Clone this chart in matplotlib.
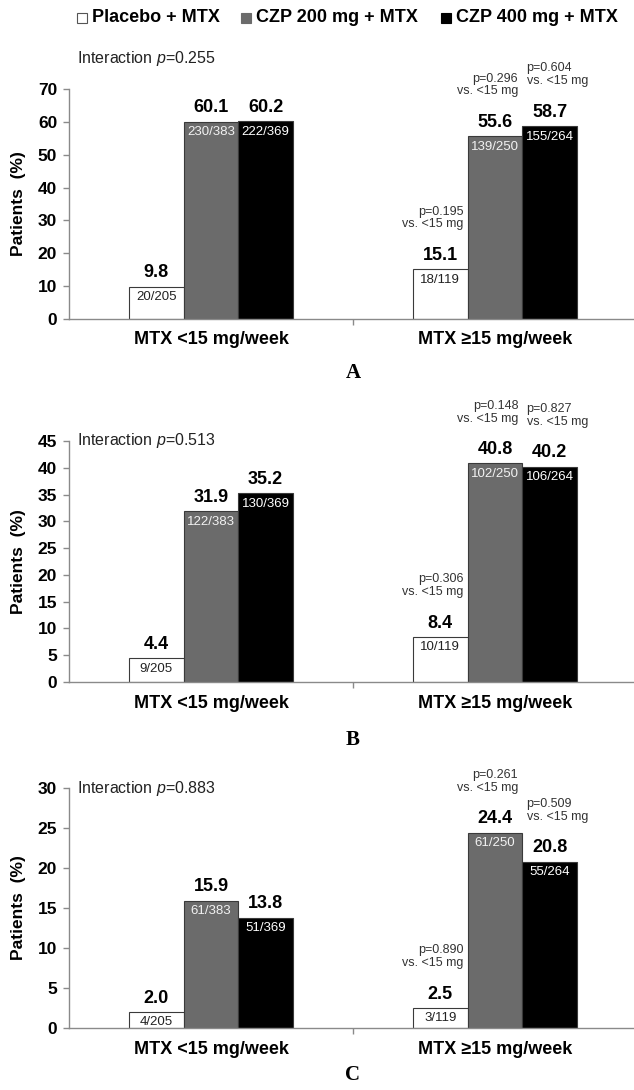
import matplotlib
matplotlib.use("Agg")
import matplotlib.pyplot as plt
from matplotlib.patches import Rectangle
from matplotlib import font_manager

# ---------------- data ----------------
categories = ["MTX <15 mg/week", "MTX \u226515 mg/week"]
series_names = ["Placebo + MTX", "CZP 200 mg + MTX", "CZP 400 mg + MTX"]

a_placebo = [9.8, 15.1]
a_czp200 = [60.1, 55.6]
a_czp400 = [60.2, 58.7]
a_frac_placebo = ["20/205", "18/119"]
a_frac_czp200 = ["230/383", "139/250"]
a_frac_czp400 = ["222/369", "155/264"]
a_pvals = ["0.195", "0.296", "0.604"]
a_interaction = "0.255"
a_ticks = [0, 10, 20, 30, 40, 50, 60, 70]

b_placebo = [4.4, 8.4]
b_czp200 = [31.9, 40.8]
b_czp400 = [35.2, 40.2]
b_frac_placebo = ["9/205", "10/119"]
b_frac_czp200 = ["122/383", "102/250"]
b_frac_czp400 = ["130/369", "106/264"]
b_pvals = ["0.306", "0.148", "0.827"]
b_interaction = "0.513"
b_ticks = [0, 5, 10, 15, 20, 25, 30, 35, 40, 45]

c_placebo = [2.0, 2.5]
c_czp200 = [15.9, 24.4]
c_czp400 = [13.8, 20.8]
c_frac_placebo = ["4/205", "3/119"]
c_frac_czp200 = ["61/383", "61/250"]
c_frac_czp400 = ["51/369", "55/264"]
c_pvals = ["0.890", "0.261", "0.509"]
c_interaction = "0.883"
c_ticks = [0, 5, 10, 15, 20, 25, 30]

panel_letters = ["A", "B", "C"]

# ---------------- style ----------------
W, H = 634, 1090
DPI = 100
names = {f.name for f in font_manager.fontManager.ttflist}
SANS = ["Liberation Sans", "DejaVu Sans"]
if "Liberation Sans Narrow" in names:
    NARROW = ["Liberation Sans Narrow", "Liberation Sans", "DejaVu Sans"]
    NSIZE = 10.3
    FSIZE = 10.6
else:
    NARROW = SANS
    NSIZE = 9.0
    FSIZE = 9.5

plt.rcParams["font.family"] = SANS
plt.rcParams["mathtext.fontset"] = "custom"
plt.rcParams["mathtext.rm"] = "Liberation Sans"
plt.rcParams["mathtext.it"] = "Liberation Sans:italic"

colors = ["white", "#6b6b6b", "black"]
frac_colors = ["#222222", "#f2f2f2", "white"]
edge = "#3a3a3a"
axis_gray = "#8a8a8a"

fig = plt.figure(figsize=(W / DPI, H / DPI), dpi=DPI)

def px_x(x):
    return x / W

def px_y(y):
    return 1 - y / H

# axes pixel boxes: (left, top, right, bottom)
boxes = [(69, 89, 637, 319), (69, 441, 637, 682), (69, 788, 637, 1028)]
inter_pos = [(77, 58), (77, 441), (77, 788)]
letter_y = [373, 740, 1075]

panels = [
    (a_placebo, a_czp200, a_czp400, a_frac_placebo, a_frac_czp200, a_frac_czp400, a_pvals, a_interaction, a_ticks),
    (b_placebo, b_czp200, b_czp400, b_frac_placebo, b_frac_czp200, b_frac_czp400, b_pvals, b_interaction, b_ticks),
    (c_placebo, c_czp200, c_czp400, c_frac_placebo, c_frac_czp200, c_frac_czp400, c_pvals, c_interaction, c_ticks),
]

bw = 0.1925
offsets = [-bw, 0.0, bw]

for i, (pl, c2, c4, fpl, f2, f4, pv, inter, ticks) in enumerate(panels):
    l, t, r, b = boxes[i]
    ax = fig.add_axes([px_x(l), px_y(b), (r - l) / W, (b - t) / H])
    ax.set_xlim(-0.5, 1.5)
    ax.set_ylim(ticks[0], ticks[-1])
    vals = [pl, c2, c4]
    fracs = [fpl, f2, f4]
    xs = list(range(len(categories)))
    for s in range(3):
        xpos = [x + offsets[s] for x in xs]
        ax.bar(xpos, vals[s], width=bw, color=colors[s], edgecolor=edge,
               linewidth=0.8, zorder=2)
        for x, v, fr in zip(xpos, vals[s], fracs[s]):
            ax.annotate(f"{v:.1f}", (x, v), xytext=(0, 10), textcoords="offset points",
                        ha="center", va="center", fontsize=13, fontweight="bold",
                        color="black")
            ax.annotate(fr, (x, v), xytext=(0, -7.5), textcoords="offset points",
                        ha="center", va="center", fontsize=FSIZE, family=NARROW,
                        color=frac_colors[s], zorder=3)
    # p-values vs <15 mg for the >=15 group
    g = 1
    for s in range(3):
        x = xs[g] + offsets[s]
        v = vals[s][g]
        txt = f"p={pv[s]}\nvs. <15 mg"
        if s < 2:
            ax.annotate(txt, (x + bw / 2, v), xytext=(-3, 28), textcoords="offset points",
                        ha="right", va="bottom", multialignment="right",
                        fontsize=NSIZE, family=NARROW, color="#333333", linespacing=1.1,
                        annotation_clip=False)
        else:
            ax.annotate(txt, (x - bw / 2, v), xytext=(3, 28), textcoords="offset points",
                        ha="left", va="bottom", multialignment="left",
                        fontsize=NSIZE, family=NARROW, color="#333333", linespacing=1.1,
                        annotation_clip=False)

    ix, iy = inter_pos[i]
    fig.text(px_x(ix), px_y(iy), r"Interaction $\mathit{p}$=" + inter, ha="left", va="center",
             fontsize=11.5, color="#222222")

    # axes styling
    for sp in ["top", "right"]:
        ax.spines[sp].set_visible(False)
    for sp in ["left", "bottom"]:
        ax.spines[sp].set_color(axis_gray)
        ax.spines[sp].set_linewidth(1.0)
    ax.set_yticks(ticks)
    ax.set_yticklabels([str(v) for v in ticks], fontsize=12.5, fontweight="bold")
    ax.tick_params(axis="y", direction="out", length=4.5, width=1, color=axis_gray, pad=4)
    ax.set_xticks([0.5])
    ax.set_xticklabels([""])
    ax.tick_params(axis="x", which="major", direction="out", length=4.5, width=1, color=axis_gray)
    ax.set_xticks(xs, minor=True)
    ax.set_xticklabels(categories, minor=True, fontsize=13, fontweight="bold")
    ax.tick_params(axis="x", which="minor", length=0, pad=9)
    ax.set_ylabel("Patients  (%)", fontsize=12.5, fontweight="bold", va="center")
    ax.yaxis.set_label_coords(-(l - 19) / (r - l), 0.5)

    fig.text(px_x((l + r) / 2), px_y(letter_y[i]), panel_letters[i], ha="center", va="center",
             fontsize=15, fontweight="bold", family=["Liberation Serif", "DejaVu Serif"])

# legend at top
leg_x = [77, 241, 441]
leg_y = 18
sq = 9.5
for s in range(3):
    fig.patches.append(Rectangle((px_x(leg_x[s]), px_y(leg_y + sq / 2)), sq / W, sq / H,
                                 transform=fig.transFigure, facecolor=colors[s],
                                 edgecolor="#555555" if s == 0 else colors[s], linewidth=0.8))
    fig.text(px_x(leg_x[s] + 15), px_y(leg_y), series_names[s], ha="left", va="center",
             fontsize=13, fontweight="bold")

fig.savefig("out.png", dpi=DPI)
